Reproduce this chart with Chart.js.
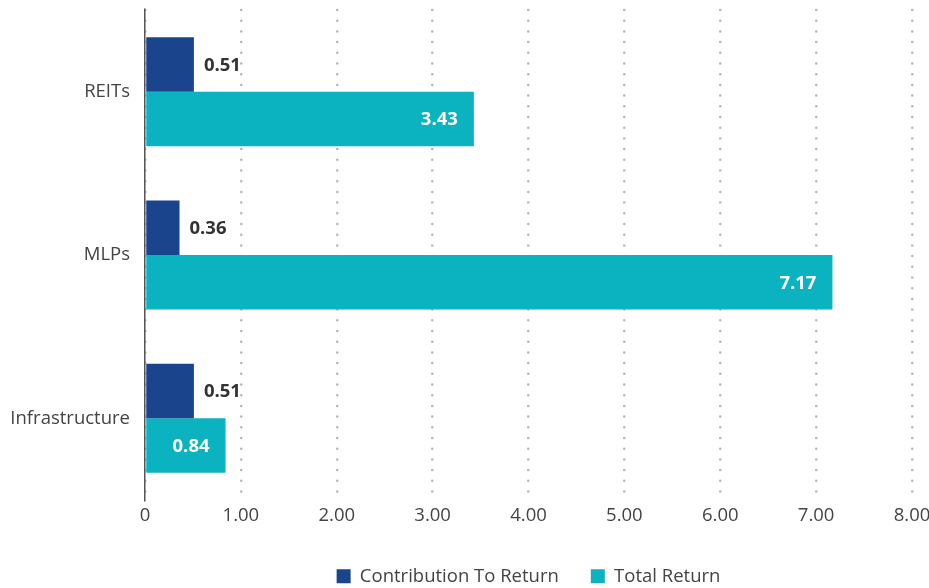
<!DOCTYPE html>
<html>
<head>
<meta charset="utf-8">
<script src="https://cdn.jsdelivr.net/npm/chart.js@4.4.1/dist/chart.umd.min.js"></script>
<style>
html,body{margin:0;padding:0;background:#fff;}
#wrap{width:929px;height:588px;position:relative;}
</style>
</head>
<body>
<div id="wrap"><canvas id="c" width="929" height="588"></canvas></div>
<script>
const categories = ["REITs", "MLPs", "Infrastructure"];
const contribution = [0.51, 0.36, 0.51];
const totalReturn = [3.43, 7.17, 0.84];
const tickValues = [0, 1, 2, 3, 4, 5, 6, 7, 8];

const FONT = "'Open Sans', 'Noto Sans', sans-serif";
const FS = 18.5;

const labelPlugin = {
  id: 'barLabels',
  afterDatasetsDraw(chart) {
    const ctx = chart.ctx;
    ctx.save();
    ctx.font = "bold " + FS + "px " + FONT;
    ctx.textBaseline = 'middle';
    chart.data.datasets.forEach((ds, di) => {
      const meta = chart.getDatasetMeta(di);
      meta.data.forEach((bar, i) => {
        const v = ds.data[i];
        const txt = v.toFixed(2);
        if (di === 0) {
          ctx.fillStyle = '#333333';
          ctx.textAlign = 'left';
          ctx.fillText(txt, bar.x + 10, bar.y + 1);
        } else {
          ctx.fillStyle = '#ffffff';
          ctx.textAlign = 'right';
          ctx.fillText(txt, bar.x - 16, bar.y + 1);
        }
      });
    });
    ctx.restore();
  }
};

new Chart(document.getElementById('c'), {
  type: 'bar',
  data: {
    labels: categories,
    datasets: [
      { label: 'Contribution To Return', data: contribution, backgroundColor: '#1a448c', barPercentage: 1.0, categoryPercentage: 0.667 },
      { label: 'Total Return', data: totalReturn, backgroundColor: '#0bb2bf', barPercentage: 1.0, categoryPercentage: 0.667 }
    ]
  },
  options: {
    indexAxis: 'y',
    responsive: false,
    animation: false,
    devicePixelRatio: 1,
    layout: { padding: { top: 10, right: 0, left: 0, bottom: 0 } },
    plugins: {
      tooltip: { enabled: false },
      legend: {
        position: 'bottom',
        fullSize: false,
        maxHeight: 53,
        labels: {
          font: { family: FONT, size: FS },
          color: '#444444',
          boxWidth: 14,
          boxHeight: 14,
          padding: 32
        }
      }
    },
    scales: {
      x: {
        min: 0,
        max: 8,
        afterBuildTicks(axis) { axis.ticks = tickValues.map(v => ({ value: v })); },
        afterFit(axis) { axis.height = 35; axis.paddingLeft = 0; axis.paddingRight = 17; },
        ticks: {
          font: { family: FONT, size: FS },
          color: '#444444',
          padding: 5,
          maxRotation: 0,
          callback: (v) => v === 0 ? '0' : Number(v).toFixed(2)
        },
        grid: {
          color: '#b4b4b4',
          lineWidth: 2.5,
          drawTicks: false,
          z: 0
        },
        border: { display: false, dash: [0, 10.7] }
      },
      y: {
        afterFit(axis) { axis.width = 145; axis.paddingTop = 0; axis.paddingBottom = 0; },
        ticks: {
          font: { family: FONT, size: FS },
          color: '#444444',
          padding: 15
        },
        grid: { display: false, drawTicks: false },
        border: { display: true, color: '#555555', width: 1.5 }
      }
    }
  },
  plugins: [labelPlugin, {
    id: 'roundCaps',
    beforeDraw(chart) {
      chart.ctx.lineCap = 'round';
    }
  }]
});
</script>
</body>
</html>
